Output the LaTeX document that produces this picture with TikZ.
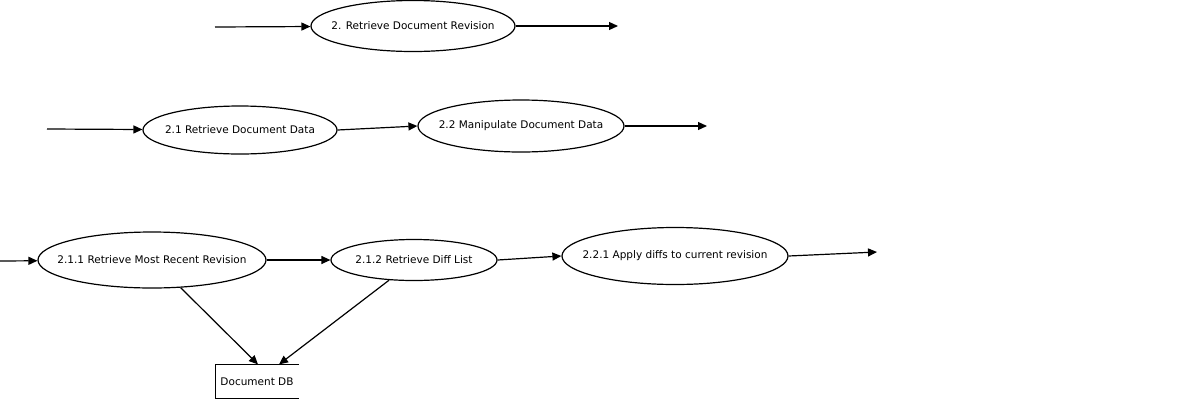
\documentclass[tikz,border=0pt]{standalone}
\usepackage{fontspec}
\setmainfont{DejaVu Sans}
\usetikzlibrary{shapes.geometric,arrows.meta}
\newcommand{\proclabel}[1]{\makebox[0pt]{#1}}

\begin{document}
\begin{tikzpicture}[x=1pt, y=-1pt, line width=1.2pt,
    proc/.style={draw, ellipse, inner sep=0, font=\fontsize{10.5}{12}\selectfont},
    store/.style={inner sep=0, minimum width=82pt, minimum height=33pt, font=\fontsize{10.5}{12}\selectfont},
    flow/.style={-{Triangle[length=9pt, width=8pt]}}]
    \useasboundingbox (0,0) rectangle (1200,400);
    % coordinaten
    \coordinate (in1) at (215,27);
    \coordinate (out1) at (618,26);
    \coordinate (in2) at (47,129);
    \coordinate (out2) at (707,126);
    \coordinate (in3) at (0,261);
    \coordinate (out3) at (877,252);
    % processen
    \node[proc, minimum width=204pt, minimum height=51pt] (rdr) at (413,26) {\proclabel{2. Retrieve Document Revision}};
    \node[proc, minimum width=194pt, minimum height=48pt] (rdd) at (240,130) {\proclabel{2.1 Retrieve Document Data}};
    \node[proc, minimum width=206pt, minimum height=52pt] (mdd) at (521,126) {\proclabel{2.2 Manipulate Document Data}};
    \node[proc, minimum width=228pt, minimum height=56pt] (rmr) at (152,260) {\proclabel{2.1.1 Retrieve Most Recent Revision}};
    \node[proc, minimum width=166pt, minimum height=41pt] (rdl) at (414,260) {\proclabel{2.1.2 Retrieve Diff List}};
    \node[proc, minimum width=226pt, minimum height=57pt] (adr) at (675,256) {\proclabel{2.2.1 Apply diffs to current revision}};
    % opslag
    \node[store] (db) at (257,381.5) {Document DB};
    \draw (db.north east) -- (db.north west) -- (db.south west) -- (db.south east);
    % pijlen
    \draw[flow] (in1) -- (rdr);
    \draw[flow] (rdr) -- (out1);
    \draw[flow] (in2) -- (rdd);
    \draw[flow] (rdd.east) -- (mdd.west);
    \draw[flow] (mdd) -- (out2);
    \draw[flow] (in3) -- (rmr);
    \draw[flow] (rmr) -- (rdl);
    \draw[flow] (rdl.east) -- (adr.west);
    \draw[flow] (adr.east) -- (out3);
    \draw[flow] (rmr.-44) -- ([xshift=1pt]db.north);
    \draw[flow] (rdl.-141) -- ([xshift=22pt]db.north);
\end{tikzpicture}
\end{document}
